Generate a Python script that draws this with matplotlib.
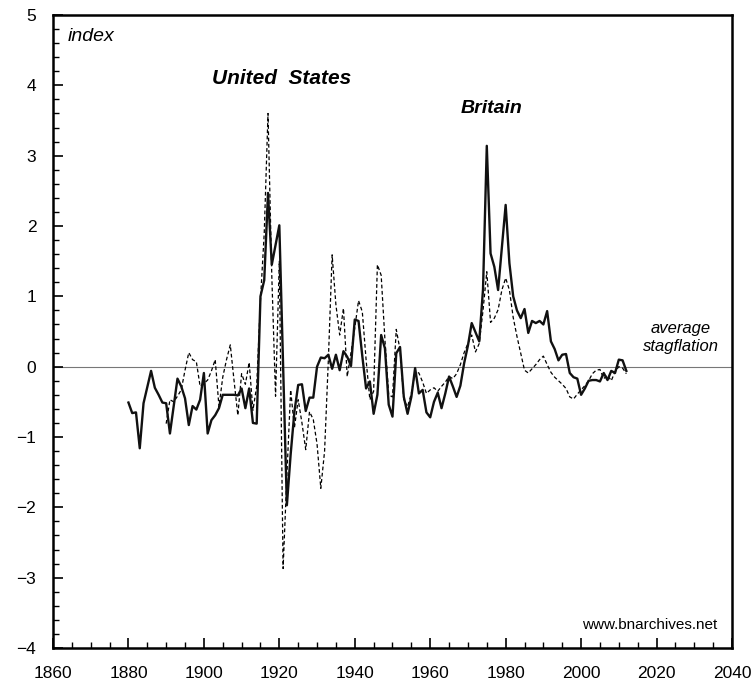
import numpy as np
import matplotlib
matplotlib.use("Agg")
import matplotlib.pyplot as plt
from matplotlib.ticker import MultipleLocator

plt.rcParams['font.family'] = ['Liberation Sans', 'DejaVu Sans']

# Britain (solid), annual from 1880
britain_start = 1880
britain = [
    -0.51, -0.66, -0.65, -1.16, -0.52, -0.29, -0.06, -0.30, -0.40, -0.51,   # 1880s
    -0.52, -0.95, -0.56, -0.17, -0.28, -0.45, -0.83, -0.56, -0.61, -0.47,   # 1890s
    -0.09, -0.95, -0.76, -0.69, -0.59, -0.40, -0.40, -0.40, -0.40, -0.41,   # 1900s
    -0.31, -0.59, -0.31, -0.80, -0.81, 1.00, 1.23, 2.47, 1.45, 1.73,        # 1910s
    2.01, 0.00, -1.97, -1.25, -0.64, -0.26, -0.25, -0.63, -0.44, -0.44,     # 1920s
    0.00, 0.13, 0.12, 0.17, -0.03, 0.17, -0.05, 0.22, 0.14, 0.01,           # 1930s
    0.67, 0.65, 0.15, -0.31, -0.21, -0.67, -0.40, 0.45, 0.26, -0.54,        # 1940s
    -0.71, 0.19, 0.28, -0.43, -0.67, -0.43, -0.02, -0.38, -0.33, -0.65,     # 1950s
    -0.72, -0.50, -0.37, -0.59, -0.38, -0.14, -0.28, -0.43, -0.27, 0.05,    # 1960s
    0.30, 0.62, 0.49, 0.36, 1.10, 3.14, 1.61, 1.42, 1.09, 1.70,             # 1970s
    2.30, 1.47, 1.00, 0.80, 0.69, 0.82, 0.48, 0.65, 0.62, 0.65,             # 1980s
    0.60, 0.79, 0.36, 0.25, 0.09, 0.17, 0.18, -0.09, -0.15, -0.17,          # 1990s
    -0.40, -0.31, -0.20, -0.19, -0.19, -0.21, -0.09, -0.19, -0.06, -0.09,   # 2000s
    0.10, 0.09, -0.06,                                                      # 2010s
]

# United States (dashed), annual from 1890
us_start = 1890
us = [
    -0.81, -0.47, -0.50, -0.42, -0.33, -0.05, 0.20, 0.10, 0.07, -0.28,      # 1890s
    -0.24, -0.19, -0.06, 0.10, -0.57, -0.15, 0.10, 0.31, -0.20, -0.69,      # 1900s
    -0.10, -0.25, 0.06, -0.62, -0.28, 0.95, 1.90, 3.60, 1.30, -0.42,        # 1910s
    1.50, -2.87, -1.55, -0.33, -0.87, -0.47, -0.80, -1.18, -0.64, -0.75,    # 1920s
    -1.10, -1.73, -1.20, 0.10, 1.59, 0.88, 0.45, 0.83, -0.14, 0.20,         # 1930s
    0.55, 0.94, 0.78, 0.10, -0.47, -0.35, 1.45, 1.30, 0.38, -0.40,          # 1940s
    -0.43, 0.53, 0.24, -0.47, -0.57, -0.38, -0.07, -0.09, -0.22, -0.38,     # 1950s
    -0.33, -0.30, -0.35, -0.28, -0.22, -0.14, -0.17, -0.10, 0.03, 0.20,     # 1960s
    0.33, 0.45, 0.21, 0.33, 0.80, 1.35, 0.63, 0.69, 0.81, 1.09,             # 1970s
    1.26, 1.09, 0.70, 0.43, 0.19, -0.05, -0.09, -0.03, 0.03, 0.10,          # 1980s
    0.15, 0.03, -0.08, -0.15, -0.20, -0.25, -0.31, -0.43, -0.46, -0.39,     # 1990s
    -0.33, -0.27, -0.20, -0.10, -0.05, -0.04, -0.17, -0.12, -0.20, -0.07,   # 2000s
    0.00, -0.02, -0.10,                                                     # 2010s
]

britain_years = np.arange(britain_start, britain_start + len(britain))
us_years = np.arange(us_start, us_start + len(us))

fig = plt.figure(figsize=(7.55, 6.86), dpi=100)
ax = fig.add_axes([0.0702, 0.0554, 0.8993, 0.9227])

ax.axhline(0, color="#777777", lw=0.8, zorder=1)
ax.plot(us_years, us, color="black", lw=0.9, ls=(0, (3, 2)), zorder=2)
ax.plot(britain_years, britain, color="#111111", lw=1.7, zorder=3)

ax.set_xlim(1860, 2040)
ax.set_ylim(-4, 5)
ax.xaxis.set_major_locator(MultipleLocator(20))
ax.xaxis.set_minor_locator(MultipleLocator(5))
ax.yaxis.set_major_locator(MultipleLocator(1))
ax.yaxis.set_minor_locator(MultipleLocator(0.2))
ax.tick_params(which="both", direction="in", colors="black", labelsize=12.5)
ax.tick_params(which="major", length=7, width=1.2)
ax.tick_params(which="minor", length=4, width=1.0)
ax.tick_params(axis="y", pad=12)
ax.tick_params(axis="x", pad=13)
for side in ["left", "bottom", "right", "top"]:
    ax.spines[side].set_linewidth(1.8)
    ax.spines[side].set_color("black")

ax.text(0.022, 0.98, "index", transform=ax.transAxes, ha="left", va="top",
        fontsize=14, style="italic")
ax.text(1920.7, 4.1, "United  States", ha="center", va="center",
        fontsize=15, style="italic", weight="bold")
ax.text(1976.3, 3.67, "Britain", ha="center", va="center",
        fontsize=14, style="italic", weight="bold")
ax.text(2026.5, 0.42, "average\nstagflation", ha="center", va="center",
        fontsize=12, style="italic", linespacing=1.25)
ax.text(0.979, 0.025, "www.bnarchives.net", transform=ax.transAxes,
        ha="right", va="bottom", fontsize=11)

fig.savefig("out.png", dpi=100)
